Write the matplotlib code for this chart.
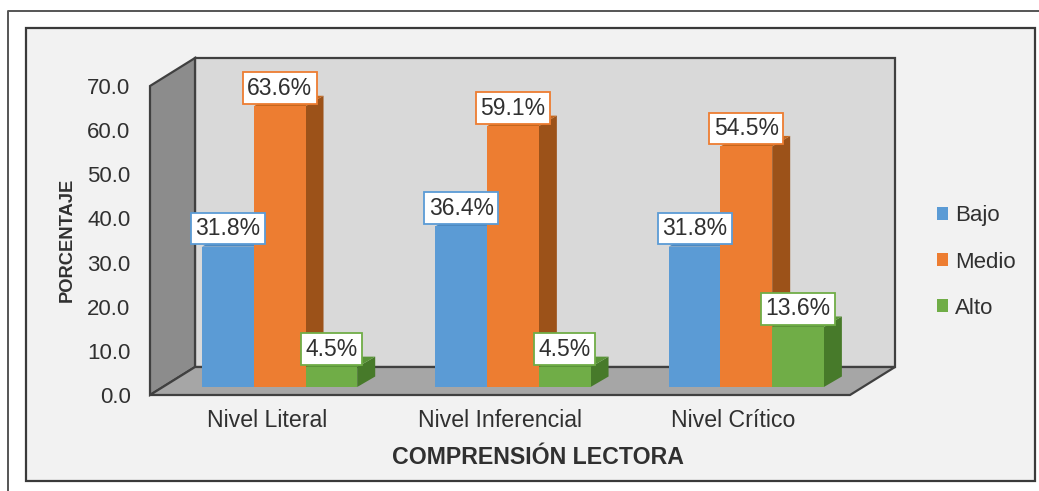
import matplotlib.pyplot as plt
from matplotlib.patches import Polygon, Rectangle

plt.rcParams["font.family"] = ["Liberation Sans", "DejaVu Sans"]

categories = ["Nivel Literal", "Nivel Inferencial", "Nivel Crítico"]
series = ["Bajo", "Medio", "Alto"]
bajo = [31.8, 36.4, 31.8]
medio = [63.6, 59.1, 54.5]
alto = [4.5, 4.5, 13.6]
values = [bajo, medio, alto]
yticks = [0, 10, 20, 30, 40, 50, 60, 70]

front = ["#5b9bd5", "#ed7d31", "#70ad47"]
side = ["#3f76a8", "#9c5219", "#477a2a"]
top = ["#4d88bf", "#c4671f", "#5a9438"]
TEXT = "#303030"

W, H = 1039, 491
fig = plt.figure(figsize=(W / 100, H / 100), dpi=100, facecolor="white")

# outer page lines and the grey panel with its dark frame
bg = fig.add_axes([0, 0, 1, 1], zorder=0)
bg.set_xlim(0, W)
bg.set_ylim(H, 0)
bg.axis("off")
bg.plot([8, 8, W], [H, 11, 11], color="#555555", lw=1.4)
bg.add_patch(Rectangle((26, 28), 1009, 453, fc="#f2f2f2", ec="#3a3a3a", lw=1.6))

# front plane of the 3d box is the real axes
x0, x1, ybot, ytop = 150, 850, 395, 86
ax = fig.add_axes([x0 / W, 1 - ybot / H, (x1 - x0) / W, (ybot - ytop) / H], zorder=1)
ax.set_xlim(0, 3)
ax.set_ylim(0, 70)
ax.patch.set_alpha(0)
for s in ax.spines.values():
    s.set_visible(False)

# depth of the box and of the bars, in data units
px_x = 3 / (x1 - x0)
px_y = 70 / (ybot - ytop)
dx, dy = 45 * px_x, 28 * px_y
bdx, bdy = 18 * px_x, 10.5 * px_y
base_x, base_y = 13 * px_x, 8 * px_y
bar_w = 51.7 * px_x
group_left = 0.5 - 1.5 * bar_w + base_x

edge = "#404040"
ax.add_patch(Polygon([(dx, dy), (3 + dx, dy), (3 + dx, 70 + dy), (dx, 70 + dy)],
                     fc="#d9d9d9", ec=edge, lw=1.6, clip_on=False, zorder=1))
ax.add_patch(Polygon([(0, 0), (dx, dy), (dx, 70 + dy), (0, 70)],
                     fc="#8c8c8c", ec=edge, lw=1.6, clip_on=False, zorder=2))
ax.add_patch(Polygon([(0, 0), (3, 0), (3 + dx, dy), (dx, dy)],
                     fc="#a6a6a6", ec=edge, lw=1.6, clip_on=False, zorder=2))

for i in range(len(categories)):
    for j in range(len(series)):
        v = values[j][i]
        l = i + group_left + j * bar_w
        r = l + bar_w
        b = base_y
        t = base_y + v
        z = 3 + j
        ax.add_patch(Polygon([(r, b), (r + bdx, b + bdy), (r + bdx, t + bdy), (r, t)],
                             fc=side[j], ec="none", clip_on=False, zorder=z))
        ax.add_patch(Polygon([(l, t), (r, t), (r + bdx, t + bdy), (l + bdx, t + bdy)],
                             fc=top[j], ec="none", clip_on=False, zorder=z))
        ax.add_patch(Rectangle((l, b), bar_w, v, fc=front[j], ec="none",
                               clip_on=False, zorder=z))

for i in range(len(categories)):
    for j in range(len(series)):
        v = values[j][i]
        xc = i + group_left + (j + 0.5) * bar_w
        ax.annotate(f"{v:.1f}%", (xc, base_y + v), xytext=(0, 13), textcoords="offset points",
                    ha="center", va="center", fontsize=16.5, color=TEXT, zorder=10,
                    bbox=dict(boxstyle="square,pad=0.19", fc="white", ec=front[j], lw=1.3))

ax.set_xticks([0.5, 1.5, 2.5], categories, fontsize=16.7, color=TEXT)
ax.set_yticks(yticks, [f"{t:.1f}" for t in yticks], fontsize=16, color=TEXT)
ax.tick_params(axis="both", length=0)
ax.tick_params(axis="x", pad=10)
ax.tick_params(axis="y", pad=14)
ax.set_xlabel("COMPRENSIÓN LECTORA", fontsize=16.7, fontweight="bold", color=TEXT)
ax.xaxis.set_label_coords((538 - x0) / (x1 - x0), -(446 - ybot) / (ybot - ytop), transform=ax.transAxes)
ax.set_ylabel("PORCENTAJE", fontsize=13.2, fontweight="bold", color=TEXT)
ax.yaxis.set_label_coords((76 - x0) / (x1 - x0), (ybot - 240) / (ybot - ytop), transform=ax.transAxes)

handles = [Rectangle((0, 0), 1, 1, fc=c, ec="none") for c in front]
fig.legend(handles, series, loc="center left", bbox_to_anchor=(937 / W, 1 - 262 / H),
           frameon=False, fontsize=16, labelcolor=TEXT, handlelength=0.5, handleheight=0.5,
           handletextpad=0.3, labelspacing=1.13, borderpad=0, borderaxespad=0)

fig.savefig("out.png", dpi=100, facecolor="white")
